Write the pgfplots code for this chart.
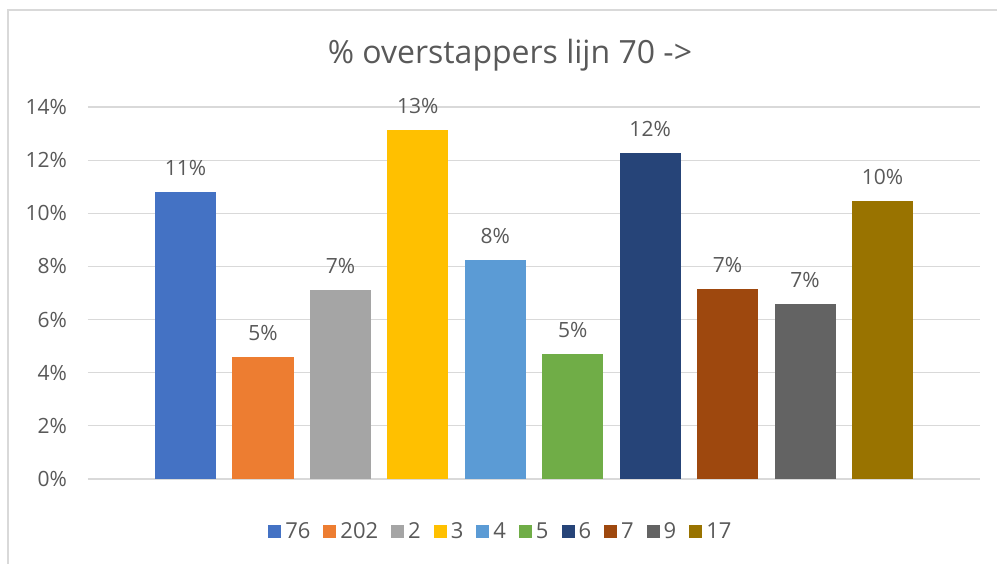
\documentclass[border=0pt]{standalone}
\usepackage{pgfplots}
\pgfplotsset{compat=1.18}
\usepackage{fontspec}
\setmainfont{Open Sans}
\definecolor{txt}{HTML}{595959}
\definecolor{gridc}{HTML}{D9D9D9}
\definecolor{c1}{HTML}{4472C4}
\definecolor{c2}{HTML}{ED7D31}
\definecolor{c3}{HTML}{A5A5A5}
\definecolor{c4}{HTML}{FFC000}
\definecolor{c5}{HTML}{5B9BD5}
\definecolor{c6}{HTML}{70AD47}
\definecolor{c7}{HTML}{264478}
\definecolor{c8}{HTML}{9E480E}
\definecolor{c9}{HTML}{636363}
\definecolor{c10}{HTML}{997300}
\pgfplotsset{sqlegend/.style={legend image code/.code={\fill[##1] (0pt,-3.25pt) rectangle (6.5pt,3.25pt);}}}
\begin{document}
\begin{tikzpicture}
\useasboundingbox (0,0) rectangle (498.5pt,281.5pt);
\draw[gridc, line width=0.6pt] (4pt,-5pt) -- (4pt,276.5pt) -- (505pt,276.5pt);
\begin{axis}[
  at={(44pt,42pt)}, anchor=south west,
  scale only axis, width=446pt, height=186pt,
  xmin=-1.26, xmax=10.26, ymin=0, ymax=14,
  ytick={0,2,...,14}, xtick=\empty,
  yticklabel={\pgfmathprintnumber{\tick}\%},
  /pgf/number format/assume math mode=true,
  ymajorgrids, grid style={gridc, line width=0.6pt},
  axis line style={draw=none}, major tick length=0pt,
  yticklabel style={color=txt, font=\fontsize{10.5}{12}\selectfont, xshift=-7pt},
  ybar, bar width=0.788, bar shift=0pt,
  title={\% overstappers lijn 70 ->},
  title style={at={(0.473,1.108)}, anchor=center, color=txt, font=\fontsize{16}{19}\selectfont},
  nodes near coords={\pgfmathprintnumber[fixed,precision=0]{\pgfplotspointmeta}\%},
  nodes near coords style={color=txt, font=\fontsize{10.5}{12}\selectfont, inner sep=0pt, yshift=8pt},
  legend columns=10,
  legend style={draw=none, at={(0.464,-0.142)}, anchor=center, text=txt, font=\fontsize{11}{13}\selectfont,
    /tikz/every even column/.append style={column sep=4.5pt}},
]
\addplot[fill=c1, draw=none, sqlegend] coordinates {(0,10.80)}; \addlegendentry{76}
\addplot[fill=c2, draw=none, sqlegend] coordinates {(1,4.59)}; \addlegendentry{202}
\addplot[fill=c3, draw=none, sqlegend] coordinates {(2,7.11)}; \addlegendentry{2}
\addplot[fill=c4, draw=none, sqlegend] coordinates {(3,13.13)}; \addlegendentry{3}
\addplot[fill=c5, draw=none, sqlegend] coordinates {(4,8.24)}; \addlegendentry{4}
\addplot[fill=c6, draw=none, sqlegend] coordinates {(5,4.70)}; \addlegendentry{5}
\addplot[fill=c7, draw=none, sqlegend] coordinates {(6,12.27)}; \addlegendentry{6}
\addplot[fill=c8, draw=none, sqlegend] coordinates {(7,7.15)}; \addlegendentry{7}
\addplot[fill=c9, draw=none, sqlegend] coordinates {(8,6.59)}; \addlegendentry{9}
\addplot[fill=c10, draw=none, sqlegend] coordinates {(9,10.46)}; \addlegendentry{17}
\end{axis}
\end{tikzpicture}
\end{document}
